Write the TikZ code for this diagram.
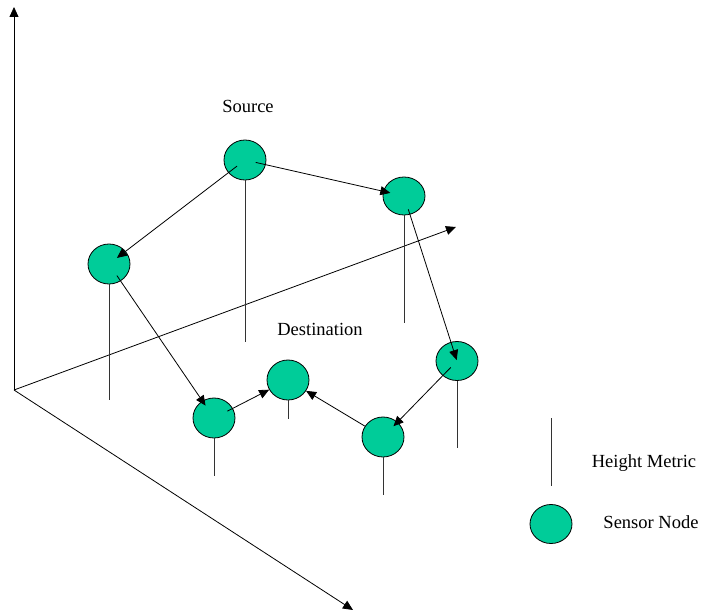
\documentclass[tikz,border=0pt]{standalone}
\usepackage{fontspec}
\setmainfont{Liberation Serif}
\usetikzlibrary{arrows.meta,shapes.geometric}

\begin{document}
\begin{tikzpicture}[font=\fontsize{18.5}{22}\selectfont,>={Triangle[length=10pt,width=9pt]},x=1pt,y=-1pt,
  sensor/.style={ellipse,draw=black,thick,fill=sensorgreen,minimum width=42pt,minimum height=40pt,inner sep=0pt},
  metric/.style={draw=black!80,thick},
  flow/.style={->,thick},
  axis/.style={->,thick}]
\definecolor{sensorgreen}{RGB}{0,204,153}
\useasboundingbox (0,0) rectangle (704,615);

% ================= Axes =================
\coordinate (o) at (14,390);
\coordinate (zend) at (14,7);
\coordinate (xend) at (456,227);
\coordinate (yend) at (353,610);
\draw[axis] (o) -- (zend);
\draw[axis] (o) -- (xend);
\draw[axis] (o) -- (yend);

% ================= Sensor nodes =================
\node[sensor] (src) at (245,160) {};
\node[sensor,minimum height=38pt] (n2) at (404,196) {};
\node[sensor] (n3) at (109,264) {};
\node[sensor,minimum height=39pt] (nr) at (457,361) {};
\node[sensor] (nb) at (383,437) {};
\node[sensor] (dst) at (288,380) {};
\node[sensor] (nl) at (214,418) {};

% height metric below each node
\foreach \n/\len in {src/162,n2/108,n3/116,nr/67,nb/38,dst/19,nl/38}{
  \draw[metric] (\n.south) -- ++(0,\len);
}

\node (srclabel) at (248,106) {Source};
\node (dstlabel) at (320,329) {Destination};

% ================= Route =================
\draw[flow,shorten <=10pt,shorten >=10pt] (src.center) -- (n3.center);
\draw[flow,shorten <=11pt,shorten >=14pt] (src.center) -- (n2.center);
\draw[flow,shorten <=14pt,shorten >=1pt] (n2.center) -- (nr.center);
\draw[flow,shorten <=9pt,shorten >=15pt] (nr.center) -- (nb.center);
\draw[flow] (nb) -- (dst);
\draw[flow,shorten <=14pt,shorten >=15pt] (n3.center) -- (nl.center);
\draw[flow,shorten <=15pt] (nl.center) -- (dst);

% ================= Legend =================
\coordinate (legtop) at (551,418);
\coordinate (legbot) at (551,486);
\draw[metric] (legtop) -- (legbot);
\node (metriclabel) at (644,463) {Height Metric};
\node[sensor,minimum height=39pt] (legsensor) at (551,524) {};
\node (sensorlabel) at (651,522) {Sensor Node};
\end{tikzpicture}
\end{document}
